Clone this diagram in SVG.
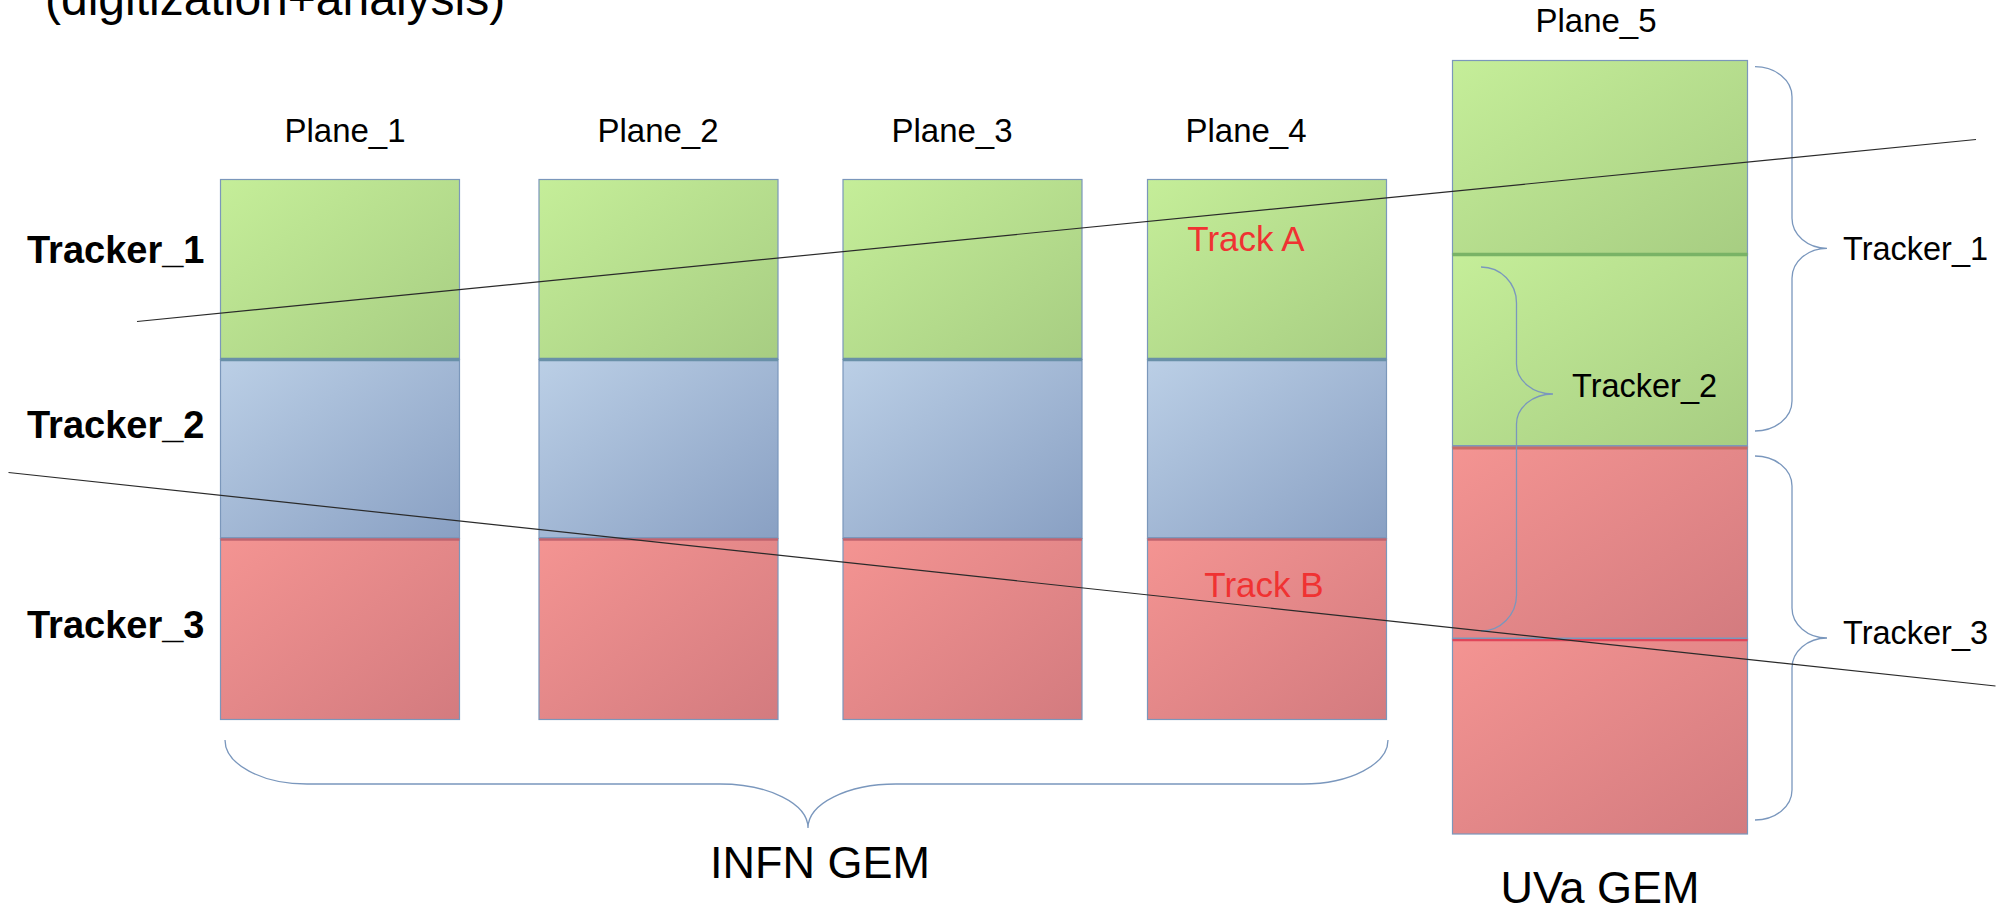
<svg xmlns="http://www.w3.org/2000/svg" width="2012" height="909" viewBox="0 0 2012 909">
  <defs>
    <linearGradient id="gGreen" x1="0" y1="0" x2="1" y2="1">
      <stop offset="0" stop-color="#c5ee99"/>
      <stop offset="1" stop-color="#a7cd82"/>
    </linearGradient>
    <linearGradient id="gBlue" x1="0" y1="0" x2="1" y2="1">
      <stop offset="0" stop-color="#bbcfe6"/>
      <stop offset="1" stop-color="#89a0c3"/>
    </linearGradient>
    <linearGradient id="gRed" x1="0" y1="0" x2="1" y2="1">
      <stop offset="0" stop-color="#f49492"/>
      <stop offset="1" stop-color="#d37b7f"/>
    </linearGradient>
  </defs>
  <style>
    .seg { stroke: #7b97bb; stroke-width: 1.2; }
    .green { fill: url(#gGreen); }
    .blue { fill: url(#gBlue); }
    .red { fill: url(#gRed); }
    .divGB { stroke: #6990a8; stroke-width: 3.5; }
    .divBR1 { stroke: #7b97bb; stroke-width: 1.4; }
    .divBR2 { stroke: #c0646f; stroke-width: 2.5; }
    .divGG { stroke: #79b366; stroke-width: 3.5; }
    .divGR { stroke: #c96c66; stroke-width: 3; }
    .divRR { stroke: #e0465a; stroke-width: 2.2; }
    .txt { font-family: "Liberation Sans", Arial, sans-serif; fill: #000; }
    .plane { font-size: 33px; text-anchor: middle; }
    .lbl { font-size: 38px; font-weight: bold; }
    .rlbl { font-size: 32.5px; }
    .trk { font-family: "Liberation Sans", Arial, sans-serif; font-size: 35px; fill: #f03232; text-anchor: middle; }
    .big { font-size: 45px; text-anchor: middle; }
    .brace { fill: none; stroke: #7a97bd; stroke-width: 1.3; }
    .track { fill: none; stroke: #2a2a2a; stroke-width: 1.2; }
  </style>

  <rect width="2012" height="909" fill="#fff"/>

  <!-- heading, partly above the top edge -->
  <text class="txt" x="45" y="15" font-size="48">(digitization+analysis)</text>

  <!-- row labels -->
  <g id="row-labels">
    <text class="txt lbl" x="27" y="263">Tracker_1</text>
    <text class="txt lbl" x="27" y="438">Tracker_2</text>
    <text class="txt lbl" x="27" y="638">Tracker_3</text>
  </g>

  <!-- INFN planes: three stacked trackers each -->
  <g id="plane1">
    <text class="txt plane" x="345" y="142">Plane_1</text>
    <rect class="seg green" x="220.5" y="179.5" width="239" height="180"/>
    <rect class="seg blue" x="220.5" y="359.5" width="239" height="179"/>
    <rect class="seg red" x="220.5" y="538.5" width="239" height="181"/>
    <line class="divGB" x1="220.5" y1="359.5" x2="459.5" y2="359.5"/>
    <line class="divBR1" x1="220.5" y1="537.6" x2="459.5" y2="537.6"/>
    <line class="divBR2" x1="220.5" y1="539.6" x2="459.5" y2="539.6"/>
  </g>
  <g id="plane2">
    <text class="txt plane" x="658" y="142">Plane_2</text>
    <rect class="seg green" x="539" y="179.5" width="239" height="180"/>
    <rect class="seg blue" x="539" y="359.5" width="239" height="179"/>
    <rect class="seg red" x="539" y="538.5" width="239" height="181"/>
    <line class="divGB" x1="539" y1="359.5" x2="778" y2="359.5"/>
    <line class="divBR1" x1="539" y1="537.6" x2="778" y2="537.6"/>
    <line class="divBR2" x1="539" y1="539.6" x2="778" y2="539.6"/>
  </g>
  <g id="plane3">
    <text class="txt plane" x="952" y="142">Plane_3</text>
    <rect class="seg green" x="843" y="179.5" width="239" height="180"/>
    <rect class="seg blue" x="843" y="359.5" width="239" height="179"/>
    <rect class="seg red" x="843" y="538.5" width="239" height="181"/>
    <line class="divGB" x1="843" y1="359.5" x2="1082" y2="359.5"/>
    <line class="divBR1" x1="843" y1="537.6" x2="1082" y2="537.6"/>
    <line class="divBR2" x1="843" y1="539.6" x2="1082" y2="539.6"/>
  </g>
  <g id="plane4">
    <text class="txt plane" x="1246" y="142">Plane_4</text>
    <rect class="seg green" x="1147.5" y="179.5" width="239" height="180"/>
    <rect class="seg blue" x="1147.5" y="359.5" width="239" height="179"/>
    <rect class="seg red" x="1147.5" y="538.5" width="239" height="181"/>
    <line class="divGB" x1="1147.5" y1="359.5" x2="1386.5" y2="359.5"/>
    <line class="divBR1" x1="1147.5" y1="537.6" x2="1386.5" y2="537.6"/>
    <line class="divBR2" x1="1147.5" y1="539.6" x2="1386.5" y2="539.6"/>
    <text class="trk" x="1246" y="251">Track A</text>
    <text class="trk" x="1264" y="597">Track B</text>
  </g>

  <!-- UVa plane: four chambers -->
  <g id="plane5">
    <text class="txt plane" x="1596" y="32">Plane_5</text>
    <rect class="seg green" x="1452.5" y="60.5" width="295" height="193.5"/>
    <rect class="seg green" x="1452.5" y="254" width="295" height="193"/>
    <rect class="seg red" x="1452.5" y="447" width="295" height="192"/>
    <rect class="seg red" x="1452.5" y="639" width="295" height="195"/>
    <line class="divGG" x1="1452.5" y1="254.5" x2="1747.5" y2="254.5"/>
    <line class="divBR1" x1="1452.5" y1="445.6" x2="1747.5" y2="445.6"/>
    <line class="divGR" x1="1452.5" y1="448" x2="1747.5" y2="448"/>
    <line class="divBR1" x1="1452.5" y1="638.2" x2="1747.5" y2="638.2"/>
    <line class="divRR" x1="1452.5" y1="640.2" x2="1747.5" y2="640.2"/>
  </g>

  <!-- group braces and their labels -->
  <g id="braces">
    <path class="brace" d="M1755,66.7 A37,30 0 0 1 1792,96.7 L1792,218.3 A35,30 0 0 0 1827,248.3 A35,30 0 0 0 1792,278.3 L1792,401 A37,30 0 0 1 1755,431"/>
    <path class="brace" d="M1755,456 A37,30 0 0 1 1792,486 L1792,608 A35,30 0 0 0 1827,638 A35,30 0 0 0 1792,668 L1792,790 A37,30 0 0 1 1755,820"/>
    <path class="brace" d="M1481,267 A35.5,36 0 0 1 1516.5,303 L1516.5,364 A36.5,30 0 0 0 1553,394 A36.5,30 0 0 0 1516.5,424 L1516.5,595 A35.5,36 0 0 1 1481,631"/>
    <path class="brace" d="M225,740 A82,44 0 0 0 307,784 L720,784 A88,44 0 0 1 808,828 A88,44 0 0 1 896,784 L1303,784 A85,44 0 0 0 1388,740"/>
    <text class="txt rlbl" x="1843" y="260">Tracker_1</text>
    <text class="txt rlbl" x="1572" y="397">Tracker_2</text>
    <text class="txt rlbl" x="1843" y="644">Tracker_3</text>
    <text class="txt big" x="820" y="878">INFN GEM</text>
    <text class="txt big" x="1600" y="903">UVa GEM</text>
  </g>

  <!-- particle tracks -->
  <g id="tracks">
    <line class="track" x1="137" y1="321.5" x2="1976" y2="139.5"/>
    <line class="track" x1="8.5" y1="472.5" x2="1995.5" y2="686"/>
  </g>
</svg>
